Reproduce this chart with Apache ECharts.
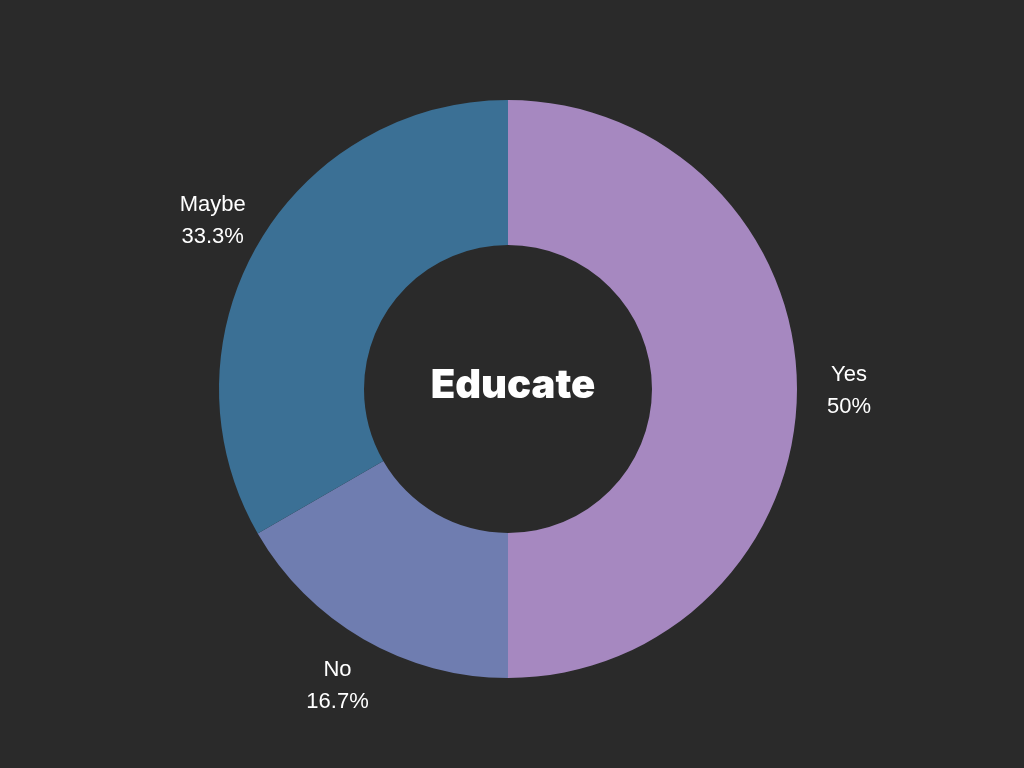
<!DOCTYPE html>
<html>
<head>
<meta charset="utf-8">
<script src="https://cdn.jsdelivr.net/npm/echarts@6/dist/echarts.min.js"></script>
<style>
html,body{margin:0;padding:0;background:#2a2a2a;}
#c{width:1024px;height:768px;}
</style>
</head>
<body>
<div id="c"></div>
<script>
const categories = ['Yes', 'No', 'Maybe'];
const values = [3, 1, 2];
const colors = ['#a688c0', '#6f7db0', '#3b7095'];
const centerTitle = 'Educate';

const data = categories.map((name, i) => ({ name: name, value: values[i] }));
const chart = echarts.init(document.getElementById('c'));
chart.setOption({
  backgroundColor: '#2a2a2a',
  animation: false,
  title: {
    text: centerTitle,
    left: 508,
    top: 381,
    textAlign: 'center',
    textVerticalAlign: 'middle',
    textStyle: { color: '#ffffff', fontSize: 40, fontWeight: 900, fontFamily: 'Inter' }
  },
  series: [
    {
      type: 'pie',
      center: [508, 389],
      radius: [144, 289],
      startAngle: 90,
      clockwise: true,
      percentPrecision: 1,
      silent: true,
      label: { show: false },
      labelLine: { show: false },
      itemStyle: { borderWidth: 0 },
      color: colors,
      data: data
    },
    {
      type: 'pie',
      center: [508, 389],
      radius: [289, 387],
      startAngle: 90,
      clockwise: true,
      percentPrecision: 1,
      silent: true,
      itemStyle: { color: 'rgba(0,0,0,0)', borderWidth: 0 },
      labelLine: { show: false },
      label: {
        show: true,
        position: 'inside',
        formatter: '{b}\n{d}%',
        color: '#ffffff',
        fontSize: 22,
        lineHeight: 32,
        fontFamily: 'Liberation Sans',
        align: 'center',
        offset: [0, 2]
      },
      data: data
    }
  ]
});
</script>
</body>
</html>
